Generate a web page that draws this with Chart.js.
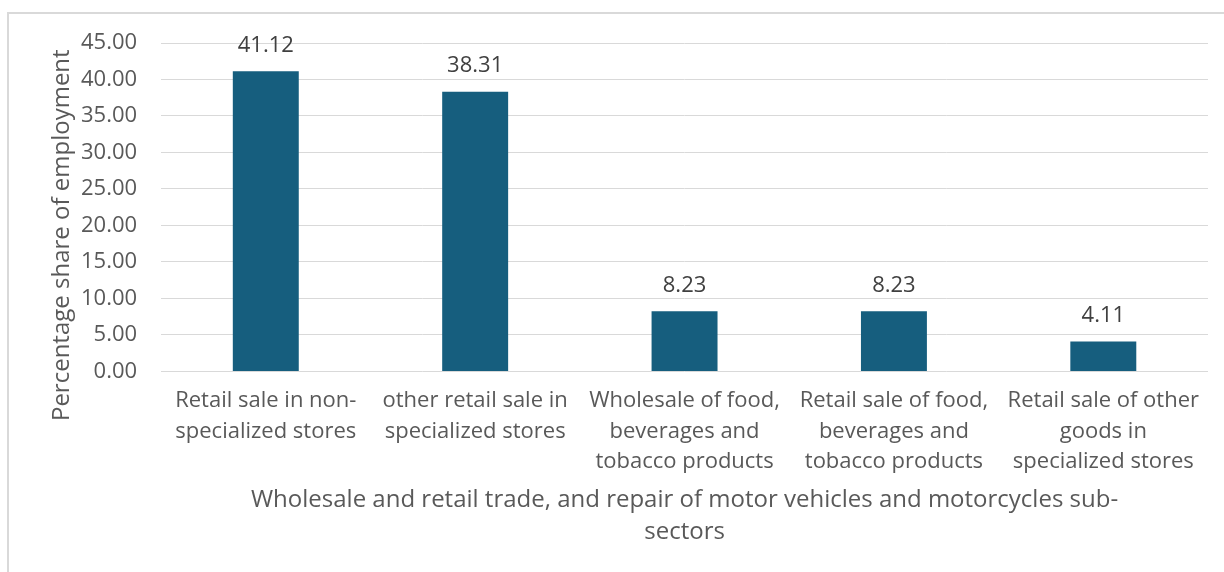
<!DOCTYPE html>
<html>
<head>
<meta charset="utf-8">
<script src="https://cdn.jsdelivr.net/npm/chart.js@4.4.1/dist/chart.umd.min.js"></script>
<style>
  html, body { margin: 0; padding: 0; background: #fff; overflow: hidden; }
  #frame {
    position: absolute; left: 7px; top: 12px;
    width: 1400px; height: 800px;
    border: 2px solid #d9d9d9;
  }
  #myChart { position: absolute; left: 0; top: 0; }
</style>
</head>
<body>
<div id="frame"></div>
<canvas id="myChart" width="1224" height="572"></canvas>
<script>
// sub-sectors and their share of employment (%)
const categories = [
    ['Retail sale in non-', 'specialized stores'],
    ['other retail sale in', 'specialized stores'],
    ['Wholesale of food,', 'beverages and', 'tobacco products'],
    ['Retail sale of food,', 'beverages and', 'tobacco products'],
    ['Retail sale of other', 'goods in', 'specialized stores']
];
const shares = [41.12, 38.31, 8.23, 8.23, 4.11];
const yTicks = [0, 5, 10, 15, 20, 25, 30, 35, 40, 45];

const yTitle = 'Percentage share of employment';
const xTitle = ['Wholesale and retail trade, and repair of motor vehicles and motorcycles sub-', 'sectors'];

const fontFamily = '"Open Sans", "Noto Sans", sans-serif';
const textColor = '#595959';

// value above each bar
const valueLabels = {
    id: 'valueLabels',
    afterDatasetsDraw(chart) {
        const ctx = chart.ctx;
        const meta = chart.getDatasetMeta(0);
        ctx.save();
        ctx.font = '22px ' + fontFamily;
        ctx.fillStyle = '#404040';
        ctx.textAlign = 'center';
        ctx.textBaseline = 'middle';
        meta.data.forEach((bar, i) => {
            ctx.fillText(chart.data.datasets[0].data[i].toFixed(2), bar.x, bar.y - 26);
        });
        ctx.restore();
    }
};

// rotated y axis title, centred lower than the plot area
const yAxisTitle = {
    id: 'yAxisTitle',
    afterDraw(chart) {
        const ctx = chart.ctx;
        const area = chart.chartArea;
        ctx.save();
        ctx.translate(62, (area.top + area.bottom) / 2 + 28);
        ctx.rotate(-Math.PI / 2);
        ctx.font = '24px ' + fontFamily;
        ctx.fillStyle = textColor;
        ctx.textAlign = 'center';
        ctx.textBaseline = 'middle';
        ctx.fillText(yTitle, 0, 0);
        ctx.restore();
    }
};

const ctx = document.getElementById('myChart').getContext('2d');
const myChart = new Chart(ctx, {
    type: 'bar',
    data: {
        labels: categories,
        datasets: [{
            data: shares,
            backgroundColor: '#165e7e',
            categoryPercentage: 1,
            barPercentage: 0.315
        }]
    },
    options: {
        responsive: false,
        animation: false,
        layout: {
            padding: { left: 57, right: 16, top: 43, bottom: 24 }
        },
        plugins: {
            legend: { display: false },
            tooltip: { enabled: false }
        },
        scales: {
            x: {
                grid: { display: false, drawTicks: false },
                border: { display: false },
                ticks: {
                    color: textColor,
                    padding: 14,
                    maxRotation: 0,
                    autoSkip: false,
                    font: { family: fontFamily, size: 22, lineHeight: 1.39 }
                },
                title: {
                    display: true,
                    text: xTitle,
                    color: textColor,
                    padding: { top: -7, bottom: 0 },
                    font: { family: fontFamily, size: 24, lineHeight: 1.33 }
                }
            },
            y: {
                min: 0,
                max: 45,
                afterBuildTicks(scale) {
                    scale.ticks = yTicks.map(v => ({ value: v }));
                },
                grid: { color: '#d9d9d9', lineWidth: 1, drawTicks: false },
                border: { display: false },
                ticks: {
                    color: textColor,
                    padding: 24,
                    font: { family: fontFamily, size: 22 },
                    callback: v => Number(v).toFixed(2)
                }
            }
        }
    },
    plugins: [valueLabels, yAxisTitle]
});
</script>
</body>
</html>
